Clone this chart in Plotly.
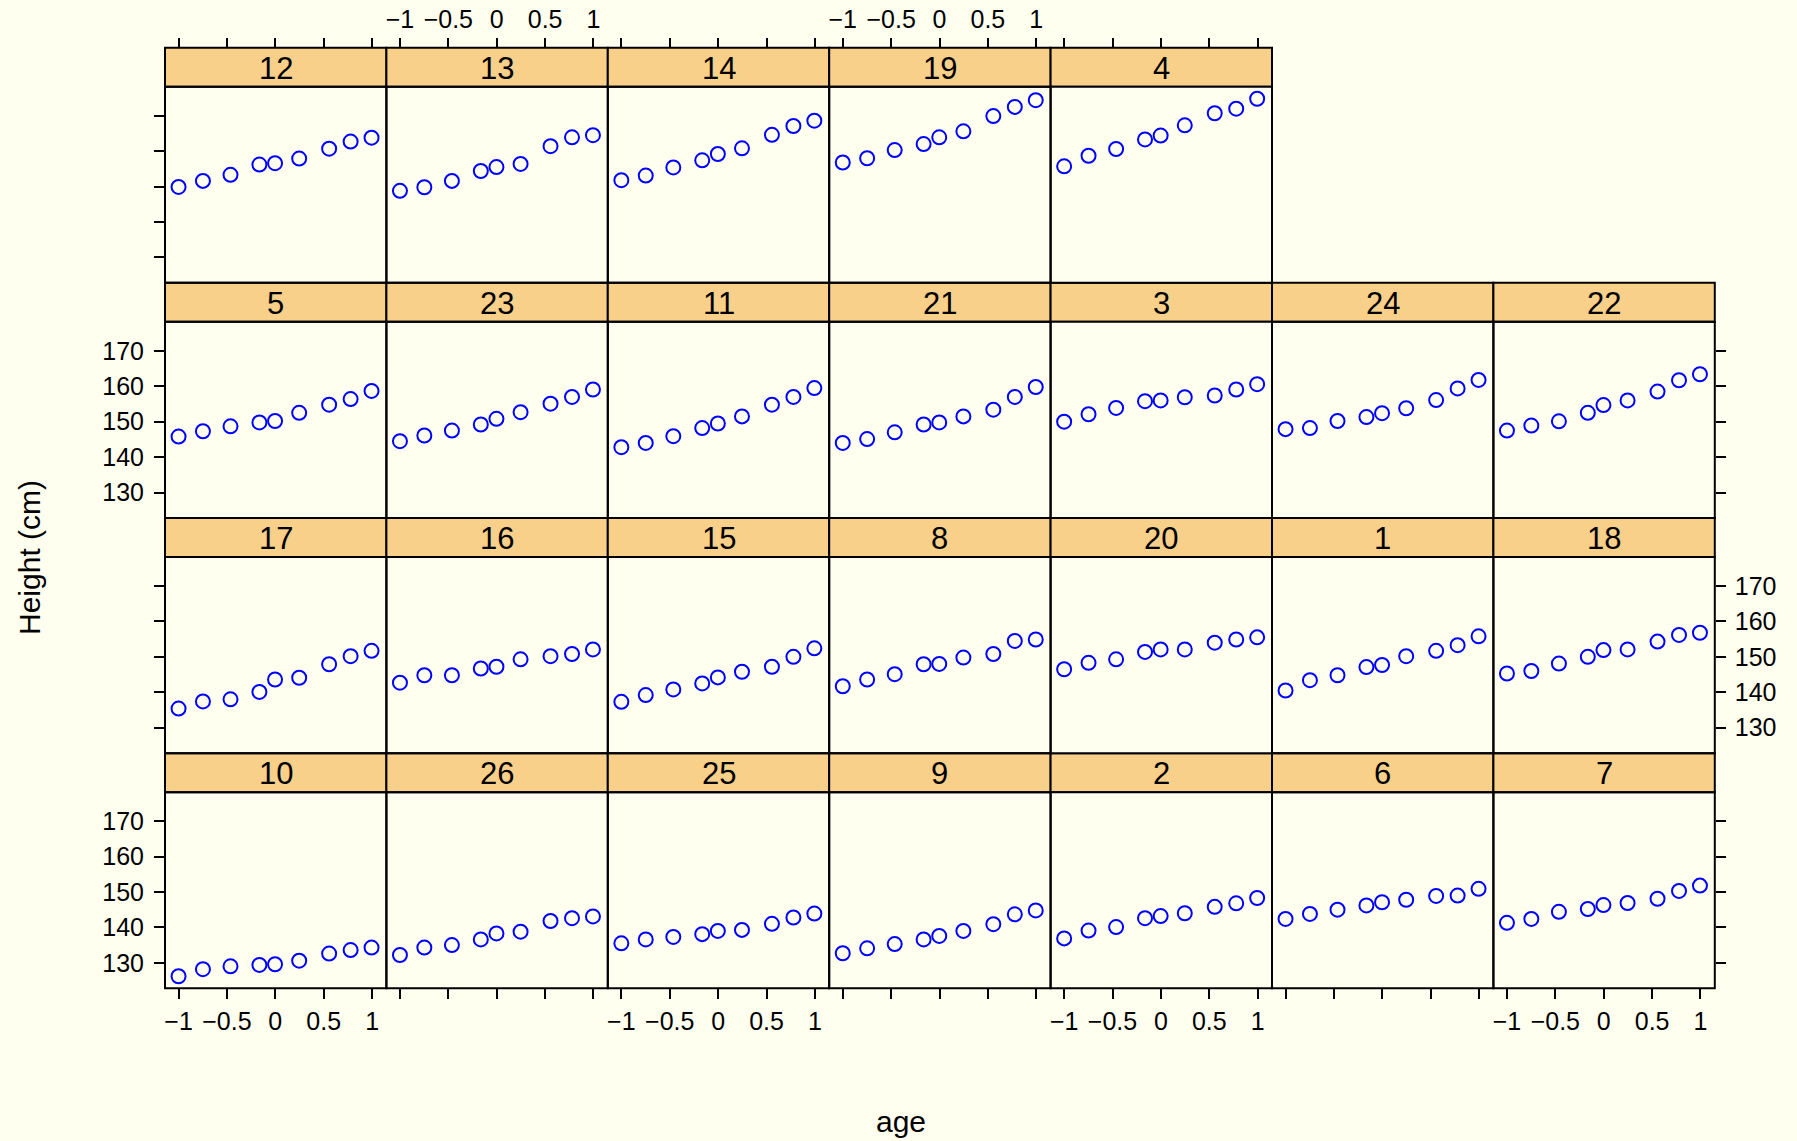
import plotly.graph_objects as go

# ---------------- data ----------------
ages = [-1.0, -0.7479, -0.4630, -0.1643, -0.0027, 0.2466, 0.5562, 0.7781, 0.9945]

h_s1 = [140.5, 143.4, 144.8, 147.1, 147.7, 150.2, 151.7, 153.3, 155.8]
h_s2 = [136.9, 139.1, 140.1, 142.6, 143.2, 144.0, 145.8, 146.8, 148.3]
h_s3 = [150.0, 152.1, 153.9, 155.8, 156.0, 156.9, 157.4, 159.1, 160.6]
h_s4 = [155.7, 158.7, 160.6, 163.3, 164.4, 167.3, 170.7, 172.0, 174.8]
h_s5 = [145.8, 147.3, 148.7, 149.8, 150.2, 152.5, 154.8, 156.4, 158.7]
h_s6 = [142.4, 143.8, 145.0, 146.2, 147.1, 147.8, 148.9, 149.0, 150.9]
h_s7 = [141.3, 142.4, 144.4, 145.2, 146.3, 146.9, 148.1, 150.3, 151.8]
h_s8 = [141.7, 143.6, 145.1, 147.9, 148.0, 149.8, 150.8, 154.5, 154.9]
h_s9 = [132.7, 134.1, 135.3, 136.6, 137.6, 139.0, 140.9, 143.7, 144.8]
h_s10 = [126.2, 128.2, 129.0, 129.4, 129.6, 130.6, 132.6, 133.6, 134.3]
h_s11 = [142.8, 144.0, 145.9, 148.2, 149.5, 151.5, 154.8, 157.0, 159.5]
h_s12 = [149.9, 151.6, 153.3, 156.2, 156.6, 157.9, 160.7, 162.7, 163.8]
h_s13 = [148.8, 149.8, 151.6, 154.4, 155.5, 156.4, 161.4, 163.9, 164.5]
h_s14 = [151.8, 153.1, 155.4, 157.4, 159.2, 160.8, 164.6, 167.1, 168.6]
h_s15 = [137.3, 139.2, 140.8, 142.5, 144.2, 145.8, 147.2, 150.0, 152.4]
h_s16 = [142.7, 144.8, 144.8, 146.7, 147.2, 149.3, 150.2, 150.8, 152.1]
h_s17 = [135.4, 137.4, 138.0, 140.1, 143.6, 144.1, 147.9, 150.2, 151.7]
h_s18 = [145.3, 146.0, 148.1, 150.0, 151.9, 152.1, 154.3, 156.2, 156.8]
h_s19 = [156.8, 158.0, 160.3, 162.0, 163.9, 165.6, 169.9, 172.5, 174.4]
h_s20 = [146.5, 148.3, 149.3, 151.4, 152.1, 152.1, 154.0, 154.9, 155.5]
h_s21 = [144.0, 145.1, 147.0, 149.2, 149.8, 151.5, 153.4, 157.0, 159.8]
h_s22 = [147.5, 148.9, 150.1, 152.5, 154.7, 156.0, 158.5, 161.7, 163.4]
h_s23 = [144.5, 146.1, 147.5, 149.2, 150.8, 152.7, 155.1, 157.0, 159.1]
h_s24 = [147.9, 148.2, 150.2, 151.3, 152.4, 153.8, 156.1, 159.4, 161.8]
h_s25 = [135.5, 136.6, 137.3, 138.1, 139.0, 139.3, 141.0, 142.8, 143.9]
h_s26 = [132.2, 134.3, 135.0, 136.6, 138.3, 138.8, 141.8, 142.6, 143.1]

heights = {
    "1": h_s1, "2": h_s2, "3": h_s3, "4": h_s4, "5": h_s5, "6": h_s6,
    "7": h_s7, "8": h_s8, "9": h_s9, "10": h_s10, "11": h_s11, "12": h_s12,
    "13": h_s13, "14": h_s14, "15": h_s15, "16": h_s16, "17": h_s17,
    "18": h_s18, "19": h_s19, "20": h_s20, "21": h_s21, "22": h_s22,
    "23": h_s23, "24": h_s24, "25": h_s25, "26": h_s26,
}

# panel layout (top row first), as drawn by lattice
panel_rows = [
    ["12", "13", "14", "19", "4"],
    ["5", "23", "11", "21", "3", "24", "22"],
    ["17", "16", "15", "8", "20", "1", "18"],
    ["10", "26", "25", "9", "2", "6", "7"],
]

x_ticks = [-1, -0.5, 0, 0.5, 1]
y_ticks = [130, 140, 150, 160, 170]

# ---------------- geometry ----------------
W, H = 1797, 1141
LEFT0, COLW = 165.0, 221.4
TOP0, ROWH, STRIPH = 47.7, 235.15, 39.0
XR = [-1.14, 1.148]
YR = [122.8, 178.2]

BG = "#FFFFF0"
STRIP = "#F8D08A"
FONT = "Liberation Sans, Arial, Helvetica, sans-serif"
TICKFONT = dict(family=FONT, size=25, color="black")


def px(x):
    return x / W


def py(y):
    return 1 - y / H


fig = go.Figure()
layout = dict(
    width=W, height=H, autosize=False,
    margin=dict(l=0, r=0, t=0, b=0),
    paper_bgcolor=BG, plot_bgcolor=BG,
    showlegend=False,
    font=dict(family=FONT, size=25, color="black"),
)
shapes = []
annotations = []

idx = 0
for r, row in enumerate(panel_rows):
    for c, subj in enumerate(row):
        idx += 1
        xl = LEFT0 + COLW * c
        xr = xl + COLW
        st = TOP0 + ROWH * r
        sb = st + STRIPH
        pb = st + ROWH

        xa = "x" if idx == 1 else f"x{idx}"
        ya = "y" if idx == 1 else f"y{idx}"
        xkey = "xaxis" if idx == 1 else f"xaxis{idx}"
        ykey = "yaxis" if idx == 1 else f"yaxis{idx}"

        fig.add_trace(go.Scatter(
            x=ages, y=heights[subj], mode="markers",
            xaxis=xa, yaxis=ya,
            marker=dict(symbol="circle-open", size=14, color="#0000FF",
                        line=dict(width=2, color="#0000FF")),
            cliponaxis=False, hoverinfo="x+y",
        ))

        xax = dict(domain=[px(xl), px(xr)], range=XR, showgrid=False,
                   zeroline=False, showline=False, tickvals=x_ticks,
                   anchor=ya, fixedrange=True, tickfont=TICKFONT)
        if r == len(panel_rows) - 1:
            xax.update(ticks="outside", ticklen=10, tickwidth=2,
                       tickcolor="black", showticklabels=(c % 2 == 0),
                       side="bottom", ticklabelstandoff=1)
        elif r == 0:
            xax.update(ticks="outside", ticklen=10, tickwidth=2,
                       tickcolor="black", showticklabels=(c % 2 == 1),
                       side="top", anchor="free", position=py(st),
                       ticklabelstandoff=0)
        else:
            xax.update(ticks="", showticklabels=False)

        yax = dict(domain=[py(pb), py(sb)], range=YR, showgrid=False,
                   zeroline=False, showline=False, tickvals=y_ticks,
                   anchor=xa, fixedrange=True, tickfont=TICKFONT)
        if c == 0:
            yax.update(ticks="outside", ticklen=10, tickwidth=2,
                       tickcolor="black", side="left",
                       showticklabels=(r in (1, 3)), ticklabelstandoff=5)
        elif c == 6:
            yax.update(ticks="outside", ticklen=10, tickwidth=2,
                       tickcolor="black", side="right",
                       showticklabels=(r == 2), ticklabelstandoff=4)
        else:
            yax.update(ticks="", showticklabels=False)

        layout[xkey] = xax
        layout[ykey] = yax

        # strip
        shapes.append(dict(type="rect", xref="paper", yref="paper",
                           x0=px(xl), x1=px(xr), y0=py(sb), y1=py(st),
                           fillcolor=STRIP, line=dict(color="black", width=2),
                           layer="below"))
        # panel frame
        shapes.append(dict(type="rect", xref="paper", yref="paper",
                           x0=px(xl), x1=px(xr), y0=py(pb), y1=py(sb),
                           fillcolor="rgba(0,0,0,0)",
                           line=dict(color="black", width=2), layer="above"))
        annotations.append(dict(xref="paper", yref="paper",
                                x=px((xl + xr) / 2), y=py((st + sb) / 2 + 1),
                                text=subj, showarrow=False,
                                xanchor="center", yanchor="middle",
                                font=dict(family=FONT, size=31, color="black")))

annotations.append(dict(xref="paper", yref="paper", x=px(901), y=py(1121),
                        text="age", showarrow=False, xanchor="center",
                        yanchor="middle",
                        font=dict(family=FONT, size=30, color="black")))
annotations.append(dict(xref="paper", yref="paper", x=px(29), y=py(558),
                        text="Height (cm)", showarrow=False, textangle=-90,
                        xanchor="center", yanchor="middle",
                        font=dict(family=FONT, size=30, color="black")))

layout["shapes"] = shapes
layout["annotations"] = annotations
fig.update_layout(**layout)

fig.write_html("out.html", include_plotlyjs=True, config={"displayModeBar": False})
